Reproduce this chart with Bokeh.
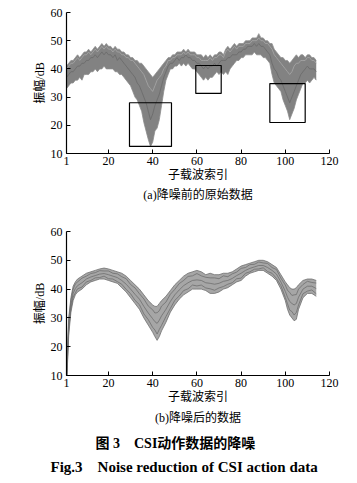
from bokeh.plotting import figure
from bokeh.layouts import column
from bokeh.models import FixedTicker, Range1d, Title
from bokeh.embed import file_html
from bokeh.resources import INLINE

# ---------------- data ----------------
x_ticks = [1, 20, 40, 60, 80, 100, 120]
y_ticks = [10, 20, 30, 40, 50, 60]

# (a) raw data: subcarrier 1..114, envelope of all traces + two sample traces
raw_upper = [41, 42, 43, 43, 44, 45, 44, 45, 46, 46,
             47, 46, 47, 48, 47, 48, 49, 48, 49, 48,
             48, 47, 48, 47, 47, 46, 46, 45, 45, 44,
             44, 43, 43, 42, 42, 41, 40, 39, 38, 37,
             38, 39, 40, 41, 42, 43, 44, 44, 45, 45,
             46, 46, 46, 47, 46, 47, 46, 46, 46, 45,
             45, 45, 44, 45, 44, 45, 44, 45, 45, 46,
             46, 45, 47, 48, 47, 48, 49, 48, 49, 49,
             49, 50, 50, 50, 51, 51, 51, 52.5, 51, 51,
             50, 50, 49, 49, 47, 46, 45, 44, 44, 43,
             43, 42, 43, 44, 45, 44, 45, 45, 44, 45,
             45, 44, 44, 43]
raw_lower = [33, 34, 35, 35, 36, 36, 37, 36, 38, 38,
             38, 39, 39, 40, 39, 40, 40, 41, 40, 40,
             40, 40, 39, 39, 38, 38, 37, 36, 35, 34,
             32, 30, 29, 27, 25, 21, 18, 15, 12.5, 14,
             18, 19, 22, 27, 32, 36, 38, 40, 40, 41,
             41, 42, 41, 42, 41, 42, 41, 40, 40, 39,
             38, 37, 36, 37, 36, 37, 37, 38, 39, 38,
             39, 38, 39, 38, 40, 41, 42, 43, 43, 44,
             44, 45, 45, 45, 45, 46, 45, 45, 45, 44,
             44, 43, 42, 38, 35, 34, 33, 32, 29, 27,
             25, 22, 24, 26, 29, 31, 33, 35, 35, 36,
             35, 36, 37, 36]
raw_trace_dark = [37, 38, 39, 39, 40, 41, 41, 42, 42, 43,
                  43, 44, 44, 45, 44, 45, 46, 45, 46, 45,
                  45, 44, 45, 43, 44, 43, 42, 41, 40, 39,
                  38, 37, 35, 34, 32, 30, 28, 25, 22, 24,
                  27, 29, 31, 34, 37, 39, 41, 42, 42, 43,
                  44, 43, 44, 44, 45, 44, 44, 43, 43, 42,
                  42, 41, 40, 41, 40, 41, 41, 42, 41, 42,
                  43, 43, 43, 44, 44, 45, 45, 45, 46, 46,
                  47, 47, 48, 48, 48, 49, 48, 49, 48, 48,
                  47, 46, 45, 42, 40, 39, 37, 36, 34, 32,
                  30, 28, 30, 32, 34, 36, 38, 39, 40, 41,
                  40, 40, 40, 39]
raw_trace_light = [40, 41, 42, 42, 43, 44, 43, 44, 45, 45,
                   46, 45, 46, 47, 46, 47, 48, 47, 48, 47,
                   47, 46, 47, 46, 46, 45, 45, 44, 44, 43,
                   43, 42, 41, 40, 39, 38, 36, 34, 33, 32,
                   34, 36, 37, 38, 40, 41, 43, 43, 44, 44,
                   45, 45, 45, 46, 45, 46, 45, 45, 45, 44,
                   44, 43, 43, 43, 43, 44, 43, 44, 44, 45,
                   45, 44, 46, 47, 46, 47, 48, 47, 48, 48,
                   48, 49, 49, 49, 50, 50, 50, 51, 50, 50,
                   49, 49, 48, 47, 45, 44, 43, 42, 41, 40,
                   39, 38, 39, 41, 42, 42, 43, 43, 43, 44,
                   44, 43, 43, 42]
raw_x = list(range(1, len(raw_upper) + 1))

# highlighted regions in (a)
box_left = [29.5, 59.5, 93]
box_right = [48.5, 71, 109]
box_bottom = [12.5, 31.3, 21]
box_top = [28, 41.2, 34.8]

# (b) denoised data
den_x = [1, 2, 3, 4, 5, 6, 8, 10, 12, 14, 16, 18, 20, 22, 24, 26, 28, 30, 32, 34,
         36, 38, 40, 41, 42, 43, 44, 46, 48, 50, 52, 54, 56, 58, 60, 62, 64, 66, 68, 70,
         72, 74, 76, 78, 80, 82, 84, 86, 88, 90, 92, 94, 96, 98, 100, 101, 102, 103, 104, 105,
         106, 108, 110, 112, 114]
den_upper = [10, 30, 37, 41, 42.5, 43.5, 44.5, 45.5, 46, 46.5, 47, 47.3, 47, 46.5, 46, 45.5, 44.5, 43, 41.5, 40,
             38, 36, 34.5, 34, 34, 35, 36, 37.5, 39.5, 41.5, 43, 44.5, 45.5, 46, 46.5, 46, 45, 45.5, 45, 45,
             45.5, 45.5, 46, 47, 48, 48.5, 49, 49.5, 50, 50, 49.5, 48.5, 47.5, 45, 42.5, 41.5, 40.5, 40, 40, 40.5,
             41.5, 43, 43.5, 43.5, 43]
den_lower = [6, 24, 32, 36, 38, 39, 40, 41.5, 42.5, 43, 43.5, 43.5, 43, 42.5, 42, 40.5, 39, 37, 35, 33,
             30, 27.5, 25, 23.5, 22.2, 23.5, 25.5, 28.5, 32, 34.5, 36.5, 38, 39, 40, 40, 40, 39.5, 38.5, 38.5, 39,
             40, 40.5, 41.5, 42.5, 43, 44.5, 45.5, 46, 46.5, 46.5, 45.5, 44.5, 43, 40, 36, 33, 31, 30, 29, 29.5,
             33, 37, 38.5, 38.5, 37.5]
den_trace1 = [9, 29, 36, 40, 41.8, 42.5, 43.8, 44.5, 45.4, 45.7, 46.4, 46.3, 46.3, 45.5, 45.3, 44.3, 43.6, 41.6, 40.4, 38.4,
              36.6, 34.1, 32.8, 31.7, 31.8, 32.5, 34.1, 35.5, 38.2, 39.9, 41.9, 43.0, 44.4, 44.6, 45.4, 44.6, 44.1, 43.9, 43.9, 43.6,
              44.6, 44.3, 45.3, 45.9, 47.2, 47.5, 48.5, 48.6, 49.4, 49.1, 48.9, 47.5, 46.8, 43.8, 41.4, 39.6, 38.8, 37.8, 38.0, 38.1,
              40.0, 41.6, 42.7, 42.3, 42.1]
den_trace2 = [8, 27, 34.5, 38.5, 40.2, 41.2, 42.2, 43.5, 44.2, 44.7, 45.2, 45.4, 45, 44.5, 44, 43, 41.7, 40, 38.2, 36.5,
              34, 31.7, 29.7, 28.7, 28.1, 29.2, 30.7, 33, 35.7, 38, 39.7, 41.2, 42.2, 43, 43.2, 43, 42.2, 42, 41.7, 42,
              42.7, 43, 43.7, 44.7, 45.5, 46.5, 47.2, 47.7, 48.2, 48.2, 47.5, 46.5, 45.2, 42.5, 39.2, 37.2, 35.7, 35, 34.5, 35,
              37.2, 40, 41, 41, 40.2]
den_trace3 = [7, 25.5, 33.2, 37.2, 38.7, 40.1, 40.7, 42.5, 43.0, 43.9, 44.0, 44.5, 43.6, 43.5, 42.6, 41.7, 39.9, 38.4, 36.1, 34.6,
              31.4, 29.4, 26.7, 25.8, 24.4, 26.0, 27.4, 30.5, 33.3, 36.1, 37.6, 39.5, 40.1, 41.4, 41.1, 41.4, 40.4, 40.1, 39.6, 40.4,
              40.9, 41.7, 42.2, 43.6, 43.8, 45.5, 46.0, 46.9, 47.0, 47.4, 46.1, 45.5, 43.7, 41.2, 37.1, 34.9, 32.7, 32.2, 31.0, 31.9,
              34.5, 38.4, 39.3, 39.7, 38.4]

# ---------------- styling helpers ----------------
SERIF = "Liberation Serif, Noto Sans CJK SC"


def make_panel(height, top_border, bottom_border):
    p = figure(width=357, height=height, x_range=Range1d(1, 120), y_range=Range1d(10, 60),
               toolbar_location=None, output_backend="svg",
               min_border_left=66, min_border_right=28,
               min_border_top=top_border, min_border_bottom=bottom_border)
    p.xgrid.visible = False
    p.ygrid.visible = False
    p.outline_line_color = None
    p.background_fill_color = "white"
    p.border_fill_color = "white"
    p.xaxis.ticker = FixedTicker(ticks=x_ticks)
    p.yaxis.ticker = FixedTicker(ticks=y_ticks)
    for ax in (p.xaxis[0], p.yaxis[0]):
        ax.major_tick_in = 4
        ax.major_tick_out = 0
        ax.minor_tick_in = 0
        ax.minor_tick_out = 0
        ax.axis_line_color = "black"
        ax.axis_line_width = 1.2
        ax.major_tick_line_color = "black"
        ax.major_label_text_font = SERIF
        ax.major_label_text_font_size = "12px"
        ax.major_label_text_color = "black"
        ax.axis_label_text_font = SERIF
        ax.axis_label_text_font_size = "12px"
        ax.axis_label_text_font_style = "normal"
        ax.axis_label_text_color = "black"
    p.xaxis.major_label_standoff = 3
    p.yaxis.major_label_standoff = 4
    p.xaxis.axis_label_standoff = 0
    p.yaxis.axis_label_standoff = 1
    p.xaxis.axis_label = "子载波索引"
    p.yaxis.axis_label = "振幅/dB"
    return p


# ---------------- (a) ----------------
pa = make_panel(206, 12, 53)
pa.varea(x=raw_x, y1=raw_lower, y2=raw_upper, fill_color="#828282", fill_alpha=1.0)
pa.line(raw_x, raw_upper, line_color="#929292", line_width=0.8)
pa.line(raw_x, raw_lower, line_color="#8c8c8c", line_width=0.8)
pa.line(raw_x, raw_trace_light, line_color="#a8a8a8", line_width=0.8)
pa.line(raw_x, raw_trace_dark, line_color="#6a6a6a", line_width=0.8)
pa.quad(left=box_left, right=box_right, bottom=box_bottom, top=box_top,
        fill_color=None, line_color="black", line_width=1.2)
pa.add_layout(Title(text="(a)降噪前的原始数据", align="center", text_font=SERIF,
                    text_font_size="12px", text_font_style="normal", text_color="black",
                    standoff=2), "below")

# ---------------- (b) + figure caption ----------------
pb = make_panel(277, 25, 108)
pb.varea(x=den_x, y1=den_lower, y2=den_upper, fill_color="#a6a6a6", fill_alpha=1.0)
for ys in (den_upper, den_lower, den_trace1, den_trace2, den_trace3):
    pb.line(den_x, ys, line_color="#6e6e6e", line_width=0.8)
pb.add_layout(Title(text="(b)降噪后的数据", align="center", text_font=SERIF,
                    text_font_size="12px", text_font_style="normal", text_color="black",
                    standoff=5), "below")
pb.add_layout(Title(text="图 3\u2003CSI动作数据的降噪", align="left", offset=29,
                    text_font=SERIF, text_font_size="14px", text_font_style="bold",
                    text_color="black", standoff=12), "below")
pb.add_layout(Title(text="Fig.3\u2003Noise reduction of CSI action data", align="left", offset=-16,
                    text_font=SERIF, text_font_size="15px", text_font_style="bold",
                    text_color="black", standoff=0), "below")

layout = column(pa, pb)
open("out.html", "w").write(file_html(layout, INLINE))
